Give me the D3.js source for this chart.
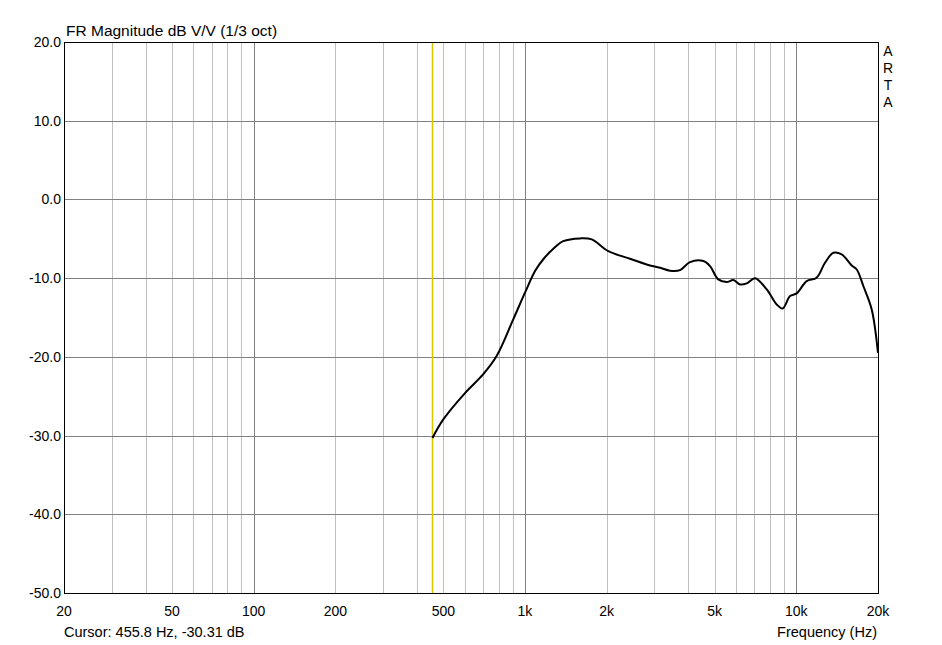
<!DOCTYPE html>
<html><head><meta charset="utf-8">
<script src="https://cdn.jsdelivr.net/npm/d3@7"></script>
<style>body{margin:0;background:#fff;} text{font-family:Arial,"Liberation Sans",sans-serif;font-size:14px;fill:#000;}</style>
</head><body>
<svg id="c" width="942" height="645"></svg>
<script>
const freqs = [456,500,601,702,786,906,1000,1089,1168,1272,1384,1596,1762,2028,2438,2808,3145,3424,3726,4056,4542,4808,5158,5536,5860,6200,6562,7041,7778,8466,8910,9480,10030,10920,11880,12756,13690,14700,16000,16700,17660,18960,20000];
const dbValues = [-30.3,-27.95,-24.6,-22.2,-19.9,-15.2,-11.85,-9.1,-7.6,-6.27,-5.3,-4.95,-5.08,-6.57,-7.54,-8.26,-8.68,-9.05,-8.98,-7.96,-7.83,-8.47,-10.16,-10.5,-10.25,-10.8,-10.67,-10.0,-11.43,-13.34,-13.85,-12.28,-11.94,-10.38,-9.95,-8.05,-6.78,-6.99,-8.39,-8.9,-11.0,-13.97,-19.5];
const xTickValues = [20,50,100,200,500,1000,2000,5000,10000,20000];
const xTickLabels = ["20","50","100","200","500","1k","2k","5k","10k","20k"];
const yTickValues = [20,10,0,-10,-20,-30,-40,-50];
const cursorFreq = 455.8;
const titleText = "FR Magnitude dB V/V (1/3 oct)";
const cursorText = "Cursor: 455.8 Hz, -30.31 dB";

const L=64,R=878,T=42,B=593;
const svg=d3.select("#c");
const x=d3.scaleLog().domain([20,20000]).range([L,R]);
const y=d3.scaleLinear().domain([-50,20]).range([B,T]);

const minor=[];
[10,100,1000].forEach(d=>{for(let k=2;k<=9;k++){const f=d*k;if(f>20&&f<20000)minor.push(f);}});
const minorSet=[...new Set(minor)].filter(f=>f>20&&f<20000&&![100,1000,10000].includes(f));
svg.append("g").selectAll("line").data(minorSet).join("line")
 .attr("x1",d=>Math.round(x(d))+0.5).attr("x2",d=>Math.round(x(d))+0.5).attr("y1",T).attr("y2",B)
 .attr("stroke","#c0c0c0").attr("stroke-width",1);
svg.append("g").selectAll("line").data([100,1000,10000]).join("line")
 .attr("x1",d=>Math.round(x(d))+0.5).attr("x2",d=>Math.round(x(d))+0.5).attr("y1",T).attr("y2",B)
 .attr("stroke","#808080").attr("stroke-width",1);
svg.append("g").selectAll("line").data(yTickValues.filter(v=>v<20&&v>-50)).join("line")
 .attr("x1",L).attr("x2",R).attr("y1",d=>Math.round(y(d))+0.5).attr("y2",d=>Math.round(y(d))+0.5)
 .attr("stroke","#808080").attr("stroke-width",1);

svg.append("line").attr("x1",Math.round(x(cursorFreq))+0.5).attr("x2",Math.round(x(cursorFreq))+0.5)
 .attr("y1",T).attr("y2",B).attr("stroke","#d4c800").attr("stroke-width",1.5);

const pts=freqs.map((f,i)=>[f,dbValues[i]]);
svg.append("path").datum(pts)
 .attr("d",d3.line().x(d=>x(d[0])).y(d=>y(d[1])).curve(d3.curveCatmullRom.alpha(0.5)))
 .attr("fill","none").attr("stroke","#000").attr("stroke-width",2).attr("stroke-linejoin","round");

svg.append("rect").attr("x",L+0.5).attr("y",T+0.5).attr("width",R-L).attr("height",B-T)
 .attr("fill","none").attr("stroke","#000").attr("stroke-width",1);

svg.append("g").selectAll("text").data(yTickValues).join("text")
 .attr("x",L-3).attr("y",d=>y(d)+5).attr("text-anchor","end").text(d=>d.toFixed(1));
svg.append("g").selectAll("text").data(xTickValues).join("text")
 .attr("x",d=>x(d)).attr("y",B+23).attr("text-anchor","middle").text((d,i)=>xTickLabels[i]);

svg.append("text").attr("x",L+2).attr("y",T-6).style("font-size","15.5px").text(titleText);
svg.append("text").attr("x",L).attr("y",B+44).style("font-size","14.5px").text(cursorText);
svg.append("text").attr("x",R-1).attr("y",B+44).attr("text-anchor","end").style("font-size","14.5px").text("Frequency (Hz)");
svg.append("g").selectAll("text").data(["A","R","T","A"]).join("text")
 .attr("x",888).attr("y",(d,i)=>T+14+i*17).attr("text-anchor","middle").text(d=>d);
</script>
</body></html>
